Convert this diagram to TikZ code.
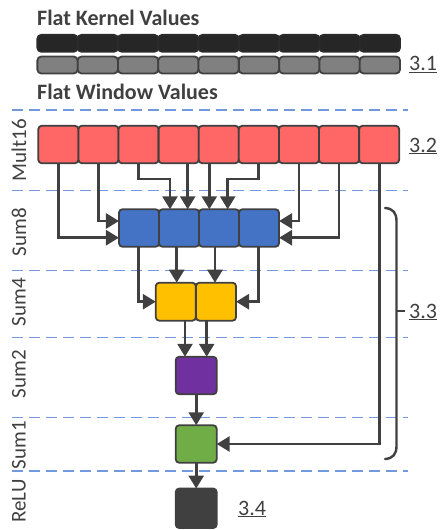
\documentclass[tikz,border=0pt]{standalone}
\usepackage{fontspec}
\setmainfont{Carlito}
\usetikzlibrary{arrows.meta}
\definecolor{ink}{HTML}{404040}
\definecolor{lane}{HTML}{7298E0}
\definecolor{kern}{HTML}{262626}
\definecolor{wind}{HTML}{808080}
\definecolor{mulred}{HTML}{FF6666}
\definecolor{sumblue}{HTML}{4472C4}
\definecolor{sumyel}{HTML}{FFC000}
\definecolor{sumpur}{HTML}{7030A0}
\definecolor{sumgrn}{HTML}{70AD47}
\definecolor{reluk}{HTML}{404040}
\tikzset{
  cell/.style={draw=ink, line width=1.8pt, rounded corners=3.5pt, inner sep=0pt, outer sep=0pt},
  bar/.style={cell, minimum width=40.3pt, minimum height=17pt, rounded corners=4pt},
  unit/.style={cell, minimum width=40.1pt, minimum height=37.5pt},
  arr/.style={draw=ink, line width=2.8pt, -{Triangle[length=13pt,width=15pt]}},
  lanesep/.style={draw=lane, line width=1.5pt, dash pattern=on 11pt off 6pt},
  stage/.style={rotate=90, text=ink, font=\fontsize{21}{24}\selectfont, inner sep=0pt},
  head/.style={text=ink, font=\fontsize{22}{26}\selectfont\bfseries, inner sep=0pt, anchor=base west},
  tag/.style={text=ink, font=\fontsize{22}{26}\selectfont, inner sep=0pt, anchor=base west},
}
\begin{document}
\begin{tikzpicture}[x=1pt, y=-1pt]
\useasboundingbox (0,0) rectangle (439,530);

% headings
\node[head] (kh) at (37,25) {Flat Kernel Values};
\node[head] (wh) at (37,99) {Flat Window Values};

% flattened kernel and window rows
\foreach \i in {0,...,8} {
  \node[bar, fill=kern, draw=kern!80!ink] (k\i) at ({57.5+40.3*\i},43.3) {};
  \node[bar, fill=wind] (w\i) at ({57.5+40.3*\i},65) {};
}
\node[tag] (t31) at (409,70.5) {\underline{3.1}};

% lane separators
\foreach \y in {110,190.7,270.7,337.3,417.3,471}
  \draw[lanesep] (12,\y) -- (408,\y);

% stage labels
\node[stage] (lm) at (19,150) {Mult16};
\node[stage] (l8) at (19,232) {Sum8};
\node[stage] (l4) at (19,302) {Sum4};
\node[stage] (l2) at (19,374) {Sum2};
\node[stage] (l1) at (19,445) {Sum1};
\node[stage] (lr) at (19,501) {ReLU};

% multipliers
\foreach \i in {1,...,9}
  \node[unit, fill=mulred] (r\i) at ({38.3+40.1*(\i-0.5)},144.5) {};
\node[tag] (t32) at (409,152) {\underline{3.2}};

% adder tree
\foreach \i in {1,...,4}
  \node[unit, fill=sumblue] (b\i) at ({119+40*(\i-0.5)},228) {};
\node[unit, fill=sumyel, minimum height=38pt] (y1) at (175.8,301.7) {};
\node[unit, fill=sumyel, minimum height=38pt] (y2) at (216,301.7) {};
\node[unit, fill=sumpur, minimum width=41pt] (p) at (196.2,375.5) {};
\node[unit, fill=sumgrn, minimum width=41pt] (g) at (196.2,444) {};
\node[unit, fill=reluk, minimum width=41pt, minimum height=39.5pt] (o) at (196.2,508.3) {};
\node[tag] (t34) at (238,515) {\underline{3.4}};

% Mult16 -> Sum8
\draw[arr] (r1.south) |- (b1.west |- 0,237.7);
\draw[arr] (r2.south) |- (b1.west |- 0,221);
\draw[arr] (r3.south) |- (170,179) -- (b2.north -| 170,0);
\draw[arr] (r4.south -| 187.7,0) -- (b2.north -| 187.7,0);
\draw[arr] (r5.south -| 209.3,0) -- (b3.north -| 209.3,0);
\draw[arr] (r6.south) |- (227.7,179) -- (b3.north -| 227.7,0);
\draw[arr] (r7.south) |- (b4.east |- 0,221);
\draw[arr] (r8.south) |- (b4.east |- 0,237.7);
\draw[arr] (r9.south) |- (g.east);

% Sum8 -> Sum4
\draw[arr] (b1.south -| 138.3,0) |- (y1.west);
\draw[arr] (b2.south -| 176.7,0) -- (y1.north -| 176.7,0);
\draw[arr] (b3.south -| 215,0) -- (y2.north -| 215,0);
\draw[arr] (b4.south -| 258.3,0) |- (y2.east);

% Sum4 -> Sum2 -> Sum1 -> ReLU
\draw[arr] (y1.south -| 185,0) -- (p.north -| 185,0);
\draw[arr] (y2.south -| 206.7,0) -- (p.north -| 206.7,0);
\draw[arr] (p.south) -- (g.north);
\draw[arr] (g.south) -- (o.north);

% brace over the adder stages
\coordinate (bt) at (385,208);
\coordinate (bb) at (385,459);
\draw[ink, line width=2.4pt, line cap=round]
  (bt) .. controls (393,208.5) and (396.5,213) .. (396.5,221)
  -- (396.5,446) .. controls (396.5,454) and (393,458.5) .. (bb);
\draw[ink, line width=2.4pt] (396.5,310.7) -- (405,310.7);
\node[tag] (t33) at (409,318) {\underline{3.3}};
\end{tikzpicture}
\end{document}
